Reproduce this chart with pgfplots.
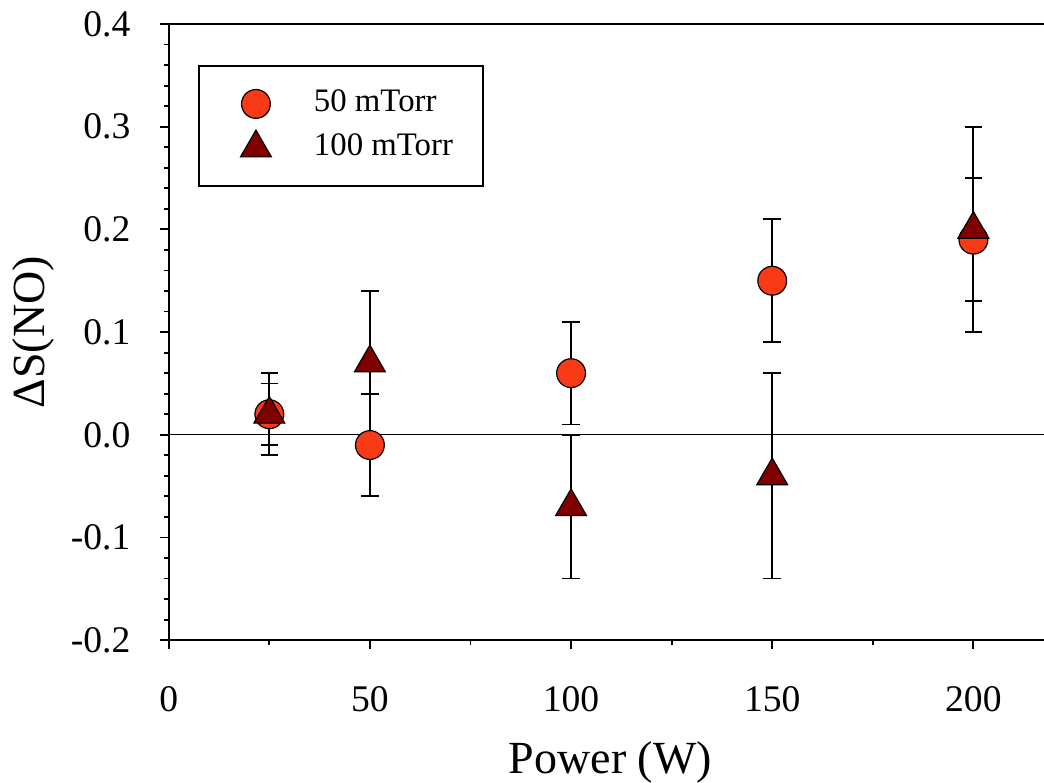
\documentclass[border=0pt]{standalone}
\usepackage{fontspec}
\setmainfont{Liberation Serif}
\usepackage{pgfplots}
\pgfplotsset{compat=1.18}
\definecolor{c50}{RGB}{249,58,23}
\definecolor{c100}{RGB}{128,0,0}

\pgfplotstableread{
x y e
25 0.02 0.03
50 -0.01 0.05
100 0.06 0.05
150 0.15 0.06
200 0.19 0.06
}\lowp
\pgfplotstableread{
x y e
25 0.02 0.04
50 0.07 0.07
100 -0.07 0.07
150 -0.04 0.10
200 0.20 0.10
}\highp

\begin{document}
\begin{tikzpicture}
\begin{axis}[
  scale only axis, width=437.5bp, height=308bp,
  xmin=0, xmax=217.55, ymin=-0.2, ymax=0.4,
  axis x line*=bottom, axis y line*=left,
  axis line style={line width=0.9bp},
  xtick={0,50,100,150,200}, minor x tick num=1,
  xticklabels={0,50,100,150,200},
  ytick={-0.2,-0.1,0,0.1,0.2,0.3,0.4}, minor y tick num=4,
  yticklabels={-0.2,-0.1,0.0,0.1,0.2,0.3,0.4},
  tick align=outside, major tick length=4.3bp, minor tick length=2.5bp,
  tick style={line width=0.9bp, black},
  tick label style={font=\rmfamily\fontsize{18.8bp}{22bp}\selectfont},
  xticklabel style={anchor=base, inner sep=0pt, yshift=-31.35bp},
  yticklabel style={anchor=east, inner sep=0pt, xshift=-14.7bp},
  xlabel={Power (W)},
  ylabel={ΔS(NO)},
  label style={font=\rmfamily\fontsize{23bp}{27bp}\selectfont},
  xlabel style={at={(axis description cs:0.5046,-0.2164)}, anchor=base},
  ylabel style={at={(axis description cs:-0.1551,0.5)}, anchor=center},
  legend style={at={(axis description cs:0.0338,0.9334)}, anchor=north west,
    draw=black, line width=0.9bp, inner xsep=13bp, inner ysep=9.5bp,
    font=\rmfamily\fontsize{16.4bp}{19bp}\selectfont,
    column sep=11.65bp, row sep=3bp,
    nodes={inner sep=2bp, text height=11.5bp, text depth=3.5bp}},
  legend cell align=left,
  legend image code/.code={\path[mark repeat=2,mark phase=2,#1] plot coordinates {(0bp,0bp) (15.35bp,0bp) (30.7bp,0bp)};},
]
\addplot[forget plot, black, line width=0.6bp] coordinates {(0,0) (217.55,0)};
\draw[line width=0.9bp] (rel axis cs:0,1) -- (rel axis cs:1,1);
\addplot[forget plot, draw=none, mark=none,
  error bars/.cd, y dir=both, y explicit,
  error bar style={draw=black, line width=0.9bp, solid},
  error mark options={rotate=90, mark size=4.4bp, line width=0.9bp, draw=black}]
  table[x=x, y=y, y error=e] {\lowp};
\addplot[forget plot, draw=none, mark=none,
  error bars/.cd, y dir=both, y explicit,
  error bar style={draw=black, line width=0.9bp, solid},
  error mark options={rotate=90, mark size=4.4bp, line width=0.9bp, draw=black}]
  table[x=x, y=y, y error=e] {\highp};
\addplot[draw=none, mark=*, mark size=7.2bp, mark options={fill=c50, draw=black, line width=0.6bp}]
  table[x=x, y=y] {\lowp};
\addlegendentry{50 mTorr}
\addplot[draw=none, mark=triangle*, mark size=8.9bp, mark options={fill=c100, draw=black, line width=0.6bp}]
  table[x=x, y=y] {\highp};
\addlegendentry{100 mTorr}
\end{axis}
\pgfresetboundingbox
\path ([shift={(-84.35bp,-71bp)}]current axis.south west) rectangle ([shift={(0bp,12bp)}]current axis.north east);
\end{tikzpicture}
\end{document}
